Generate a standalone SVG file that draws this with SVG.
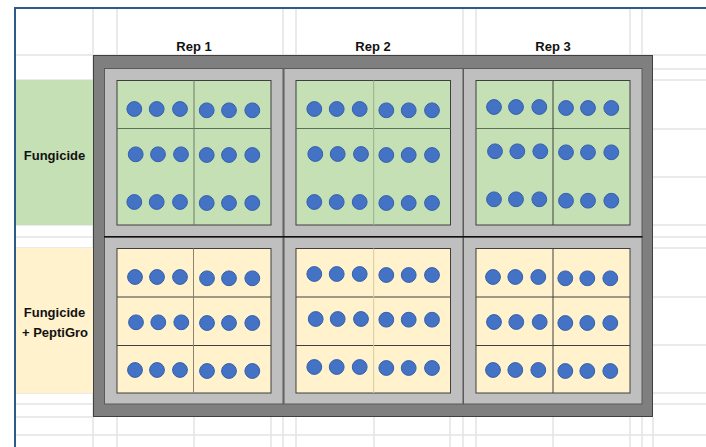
<svg xmlns="http://www.w3.org/2000/svg" width="706" height="447" viewBox="0 0 706 447">
<style>
.grid{stroke:#E3E3E3;stroke-width:1.5;fill:none}
.dot{fill:#4472C4;stroke:#3560AC;stroke-width:1}
.cell{fill:#BFBFBF;stroke:#5A5A5A;stroke-width:1}
.g{fill:#C5E0B4;stroke:#3F3F3F;stroke-width:1}
.y{fill:#FFF2CC;stroke:#3F3F3F;stroke-width:1}
.lbl{font-family:"Liberation Sans",Arial,sans-serif;font-weight:bold;font-size:13px;fill:#111;text-anchor:middle}
.div{stroke-width:1;fill:none}
</style>
<rect x="0" y="0" width="706" height="447" fill="#FFFFFF"/>
<g id="gridlines">
<path class="grid" d="M93 8V447M117 8V447M283 8V55M296 8V55M463 8V55M476 8V55M630 8V55M642 8V55"/>
<path class="grid" d="M194 417V447M271 417V447M283 417V447M296 417V447M374 417V447M450 417V447M463 417V447M476 417V447M553 417V447M630 417V447M642 417V447M653 417V447"/>
<path class="grid" d="M15 55H706M653 69H706M15 80H93M653 80H706M653 129H706M653 177H706M15 225H93M653 225H706M15 237H93M653 237H706M15 248H93M653 248H706M653 297H706M653 345H706M15 393H93M653 393H706M15 404H93M653 404H706M15 417H93M15 435H706"/>
</g>
<g id="frame">
<path d="M15 447V8H706" fill="none" stroke="#2E5C8A" stroke-width="2"/>
</g>
<g id="label-fungicide">
<rect x="16" y="80" width="77" height="145" fill="#C5E0B4"/>
<text class="lbl" x="54.5" y="159.5">Fungicide</text>
</g>
<g id="label-fungicide-peptigro">
<rect x="16" y="248" width="77" height="145" fill="#FFF2CC"/>
<text class="lbl" x="54.5" y="316.5">Fungicide</text>
<text class="lbl" x="55" y="336.5">+ PeptiGro</text>
</g>
<g id="headers">
<text class="lbl" x="194" y="50.5">Rep 1</text>
<text class="lbl" x="373" y="50.5">Rep 2</text>
<text class="lbl" x="553" y="50.5">Rep 3</text>
</g>
<g id="field">
<rect x="93.5" y="55.5" width="559" height="361" fill="#7F7F7F" stroke="#3F3F3F" stroke-width="1"/>
<rect class="cell" x="104.5" y="68.5" width="178.5" height="168"/>
<rect class="cell" x="284" y="68.5" width="179" height="168"/>
<rect class="cell" x="463.5" y="68.5" width="178.5" height="168"/>
<rect class="cell" x="104.5" y="237" width="178.5" height="167"/>
<rect class="cell" x="284" y="237" width="179" height="167"/>
<rect class="cell" x="463.5" y="237" width="178.5" height="167"/>
<line x1="104" y1="236.8" x2="642.5" y2="236.8" stroke="#111" stroke-width="1.6"/>
</g>
<g id="plot-rep1-fungicide">
<rect class="g" x="117" y="80.5" width="154" height="144.5"/>
<path class="div" d="M117 128.5H271" stroke="#5E6E58"/>
<path class="div" d="M194 80.5V225" stroke="#6B7E60"/>
<circle class="dot" cx="134.3" cy="109" r="7.4"/><circle class="dot" cx="156.7" cy="109" r="7.4"/><circle class="dot" cx="180" cy="109" r="7.4"/>
<circle class="dot" cx="206.7" cy="110.3" r="7.4"/><circle class="dot" cx="229" cy="110.3" r="7.4"/><circle class="dot" cx="252.3" cy="110.3" r="7.4"/>
<circle class="dot" cx="135.7" cy="154.3" r="7.4"/><circle class="dot" cx="158" cy="154.3" r="7.4"/><circle class="dot" cx="181" cy="154.3" r="7.4"/>
<circle class="dot" cx="206.7" cy="155" r="7.4"/><circle class="dot" cx="229" cy="155" r="7.4"/><circle class="dot" cx="252.3" cy="155" r="7.4"/>
<circle class="dot" cx="134.3" cy="202" r="7.4"/><circle class="dot" cx="156.7" cy="202" r="7.4"/><circle class="dot" cx="180" cy="202" r="7.4"/>
<circle class="dot" cx="206.7" cy="203" r="7.4"/><circle class="dot" cx="229" cy="203" r="7.4"/><circle class="dot" cx="252.3" cy="203" r="7.4"/>
</g>
<g id="plot-rep2-fungicide">
<rect class="g" x="296" y="80.5" width="154.5" height="144.5"/>
<path class="div" d="M296 128.5H450.5" stroke="#5E6E58"/>
<path class="div" d="M373.7 80.5V225" stroke="#98AE8A"/>
<circle class="dot" cx="314.3" cy="109" r="7.4"/><circle class="dot" cx="336.7" cy="109" r="7.4"/><circle class="dot" cx="359.7" cy="109" r="7.4"/>
<circle class="dot" cx="386.3" cy="110.3" r="7.4"/><circle class="dot" cx="408.7" cy="110.3" r="7.4"/><circle class="dot" cx="432" cy="110.3" r="7.4"/>
<circle class="dot" cx="315.3" cy="154" r="7.4"/><circle class="dot" cx="337.7" cy="154" r="7.4"/><circle class="dot" cx="361" cy="154" r="7.4"/>
<circle class="dot" cx="386.3" cy="155" r="7.4"/><circle class="dot" cx="408.7" cy="155" r="7.4"/><circle class="dot" cx="432" cy="155" r="7.4"/>
<circle class="dot" cx="314.3" cy="202" r="7.4"/><circle class="dot" cx="336.7" cy="202" r="7.4"/><circle class="dot" cx="359.7" cy="202" r="7.4"/>
<circle class="dot" cx="386.3" cy="203" r="7.4"/><circle class="dot" cx="408.7" cy="203" r="7.4"/><circle class="dot" cx="432" cy="203" r="7.4"/>
</g>
<g id="plot-rep3-fungicide">
<rect class="g" x="476" y="80.5" width="154" height="144.5"/>
<path class="div" d="M476 128.5H630" stroke="#5E6E58"/>
<path class="div" d="M553 80.5V225" stroke="#404040"/>
<circle class="dot" cx="494" cy="107" r="7.4"/><circle class="dot" cx="516" cy="107" r="7.4"/><circle class="dot" cx="539.3" cy="107" r="7.4"/>
<circle class="dot" cx="566" cy="108" r="7.4"/><circle class="dot" cx="588" cy="108" r="7.4"/><circle class="dot" cx="611.3" cy="108" r="7.4"/>
<circle class="dot" cx="495" cy="151.3" r="7.4"/><circle class="dot" cx="517.3" cy="151.3" r="7.4"/><circle class="dot" cx="540.3" cy="151.3" r="7.4"/>
<circle class="dot" cx="566" cy="152.3" r="7.4"/><circle class="dot" cx="588" cy="152.3" r="7.4"/><circle class="dot" cx="611.3" cy="152.3" r="7.4"/>
<circle class="dot" cx="494" cy="199.3" r="7.4"/><circle class="dot" cx="516" cy="199.3" r="7.4"/><circle class="dot" cx="539.3" cy="199.3" r="7.4"/>
<circle class="dot" cx="566" cy="200.7" r="7.4"/><circle class="dot" cx="588" cy="200.7" r="7.4"/><circle class="dot" cx="611.3" cy="200.7" r="7.4"/>
</g>
<g id="plot-rep1-peptigro">
<rect class="y" x="117" y="248.5" width="154" height="144.5"/>
<path class="div" d="M117 297H271M117 345.5H271" stroke="#404040"/>
<path class="div" d="M193.5 248.5V393" stroke="#8C8473"/>
<circle class="dot" cx="135" cy="277" r="7.4"/><circle class="dot" cx="157" cy="277" r="7.4"/><circle class="dot" cx="180" cy="277" r="7.4"/>
<circle class="dot" cx="207" cy="278.3" r="7.4"/><circle class="dot" cx="229" cy="278.3" r="7.4"/><circle class="dot" cx="252.3" cy="278.3" r="7.4"/>
<circle class="dot" cx="136" cy="322.3" r="7.4"/><circle class="dot" cx="158.3" cy="322.3" r="7.4"/><circle class="dot" cx="181.3" cy="322.3" r="7.4"/>
<circle class="dot" cx="207" cy="323" r="7.4"/><circle class="dot" cx="229" cy="323" r="7.4"/><circle class="dot" cx="252.3" cy="323" r="7.4"/>
<circle class="dot" cx="135" cy="370" r="7.4"/><circle class="dot" cx="157" cy="370" r="7.4"/><circle class="dot" cx="180" cy="370" r="7.4"/>
<circle class="dot" cx="207" cy="371" r="7.4"/><circle class="dot" cx="229" cy="371" r="7.4"/><circle class="dot" cx="252.3" cy="371" r="7.4"/>
</g>
<g id="plot-rep2-peptigro">
<rect class="y" x="296" y="248.5" width="154.5" height="144.5"/>
<path class="div" d="M296 297H450.5M296 345.5H450.5" stroke="#404040"/>
<path class="div" d="M373.7 248.5V393" stroke="#D6CAA2"/>
<circle class="dot" cx="314.3" cy="274" r="7.4"/><circle class="dot" cx="336.7" cy="274" r="7.4"/><circle class="dot" cx="359.7" cy="274" r="7.4"/>
<circle class="dot" cx="386.3" cy="275" r="7.4"/><circle class="dot" cx="408.7" cy="275" r="7.4"/><circle class="dot" cx="432" cy="275" r="7.4"/>
<circle class="dot" cx="315.7" cy="319" r="7.4"/><circle class="dot" cx="337.7" cy="319" r="7.4"/><circle class="dot" cx="361" cy="319" r="7.4"/>
<circle class="dot" cx="386.3" cy="319.7" r="7.4"/><circle class="dot" cx="408.7" cy="319.7" r="7.4"/><circle class="dot" cx="432" cy="319.7" r="7.4"/>
<circle class="dot" cx="314.3" cy="367" r="7.4"/><circle class="dot" cx="336.7" cy="367" r="7.4"/><circle class="dot" cx="359.7" cy="367" r="7.4"/>
<circle class="dot" cx="386.3" cy="368" r="7.4"/><circle class="dot" cx="408.7" cy="368" r="7.4"/><circle class="dot" cx="432" cy="368" r="7.4"/>
</g>
<g id="plot-rep3-peptigro">
<rect class="y" x="476" y="248.5" width="154" height="144.5"/>
<path class="div" d="M476 297H630M476 345.5H630" stroke="#404040"/>
<path class="div" d="M553 248.5V393" stroke="#404040"/>
<circle class="dot" cx="493" cy="277" r="7.4"/><circle class="dot" cx="515.3" cy="277" r="7.4"/><circle class="dot" cx="538.3" cy="277" r="7.4"/>
<circle class="dot" cx="565.3" cy="278.3" r="7.4"/><circle class="dot" cx="587.3" cy="278.3" r="7.4"/><circle class="dot" cx="610.3" cy="278.3" r="7.4"/>
<circle class="dot" cx="494" cy="322" r="7.4"/><circle class="dot" cx="516.3" cy="322" r="7.4"/><circle class="dot" cx="539.7" cy="322" r="7.4"/>
<circle class="dot" cx="565.3" cy="323" r="7.4"/><circle class="dot" cx="587.3" cy="323" r="7.4"/><circle class="dot" cx="610.3" cy="323" r="7.4"/>
<circle class="dot" cx="493" cy="370" r="7.4"/><circle class="dot" cx="515.3" cy="370" r="7.4"/><circle class="dot" cx="538.3" cy="370" r="7.4"/>
<circle class="dot" cx="565.3" cy="371" r="7.4"/><circle class="dot" cx="587.3" cy="371" r="7.4"/><circle class="dot" cx="610.3" cy="371" r="7.4"/>
</g>
<g id="connectors"></g>
</svg>
